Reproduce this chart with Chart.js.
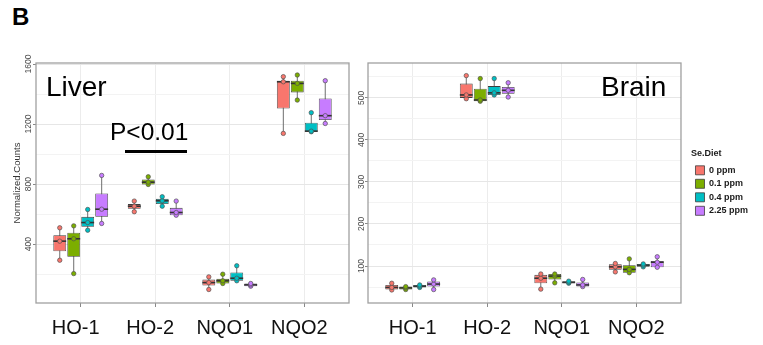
<!DOCTYPE html>
<html>
<head>
<meta charset="utf-8">
<script src="https://cdn.jsdelivr.net/npm/chart.js@4.4.1/dist/chart.umd.min.js"></script>
<style>
body { margin: 0; background: #fff; width: 763px; height: 345px; overflow: hidden; position: relative; font-family: "Liberation Sans", Arial, sans-serif; }
canvas { position: absolute; top: 0; }
#liver { left: 0; }
#brain { left: 352px; }
.lab { position: absolute; line-height: 1; color: #000; white-space: nowrap; }
</style>
</head>
<body>
<div class="lab" style="left:12px;top:5px;font-size:24px;font-weight:bold">B</div>
<canvas id="liver" width="360" height="345"></canvas>
<canvas id="brain" width="411" height="345"></canvas>
<div class="lab" style="left:46px;top:73px;font-size:28px">Liver</div>
<div class="lab" style="left:601px;top:73px;font-size:28px">Brain</div>
<div class="lab" style="left:110px;top:120px;font-size:24.5px">P&lt;0.01</div>
<div style="position:absolute;left:125px;top:150px;width:62px;height:3px;background:#000"></div>
<script>
Chart.defaults.font.family = '"Liberation Sans", Arial, sans-serif';

var genes = ['HO-1', 'HO-2', 'NQO1', 'NQO2'];
var diets = ['0 ppm', '0.1 ppm', '0.4 ppm', '2.25 ppm'];
var dietColors = ['#F8766D', '#7CAE00', '#00BFC4', '#C77CFF'];

// liver, one row per diet, one column per gene
var liverLow  = [[293, 616,  98, 1138], [204, 798, 138, 1360], [493, 653, 156, 1149], [538, 593, 120, 1204]];
var liverQ1   = [[353, 636, 124, 1304], [316, 798, 138, 1411], [516, 667, 156, 1149], [582, 593, 120, 1227]];
var liverMed  = [[420, 653, 144, 1482], [436, 813, 156, 1471], [544, 689, 173, 1153], [633, 611, 129, 1256]];
var liverQ3   = [[460, 667, 164, 1489], [476, 831, 169, 1489], [582, 702, 211, 1209], [738, 642, 138, 1371]];
var liverHigh = [[509, 687, 182, 1516], [522, 849, 200, 1527], [631, 716, 256, 1276], [858, 687, 138, 1489]];

// brain
var brainLow  = [[43, 498, 45,  86], [44, 492, 60,  84], [49, 507, 59,  98], [44, 502, 51,  97]];
var brainQ1   = [[44, 500, 59,  91], [44, 492, 68,  84], [49, 507, 59,  98], [51, 510, 51,  97]];
var brainMed  = [[49, 507, 71,  98], [48, 495, 76,  92], [52, 512, 61, 102], [57, 518, 55, 109]];
var brainQ3   = [[55, 534, 79, 104], [51, 522, 81, 102], [55, 528, 64, 105], [63, 526, 61, 112]];
var brainHigh = [[59, 553, 81, 106], [51, 546, 81, 117], [55, 546, 64, 105], [67, 536, 68, 122]];

var liverTicks = [400, 800, 1200, 1600];
var liverMinor = [200, 600, 1000, 1400];
var brainTicks = [100, 200, 300, 400, 500];
var brainMinor = [50, 150, 250, 350, 450, 550];

function boxExtras(s) {
    return {
        id: 'boxExtras',
        beforeDatasetsDraw: function(chart) {
            var ctx = chart.ctx, y = chart.scales.y;
            ctx.save();
            ctx.strokeStyle = '#6e6e6e';
            ctx.lineWidth = 1;
            chart.data.datasets.forEach(function(ds, i) {
                chart.getDatasetMeta(i).data.forEach(function(bar, j) {
                    ctx.beginPath();
                    ctx.moveTo(bar.x, y.getPixelForValue(s.low[i][j]));
                    ctx.lineTo(bar.x, y.getPixelForValue(s.high[i][j]));
                    ctx.stroke();
                });
            });
            ctx.restore();
        },
        afterDatasetsDraw: function(chart) {
            var ctx = chart.ctx, y = chart.scales.y;
            ctx.save();
            chart.data.datasets.forEach(function(ds, i) {
                chart.getDatasetMeta(i).data.forEach(function(bar, j) {
                    var m = y.getPixelForValue(s.med[i][j]);
                    ctx.strokeStyle = '#333';
                    ctx.lineWidth = 1.6;
                    ctx.beginPath();
                    ctx.moveTo(bar.x - bar.width / 2, m);
                    ctx.lineTo(bar.x + bar.width / 2, m);
                    ctx.stroke();
                    [s.low[i][j], s.med[i][j], s.high[i][j]].forEach(function(v) {
                        ctx.beginPath();
                        ctx.arc(bar.x, y.getPixelForValue(v), 2.2, 0, Math.PI * 2);
                        ctx.fillStyle = dietColors[i];
                        ctx.fill();
                        ctx.strokeStyle = 'rgba(80,80,80,0.85)';
                        ctx.lineWidth = 0.8;
                        ctx.stroke();
                    });
                });
            });
            ctx.restore();
        },
        afterDraw: function(chart) {
            var a = chart.chartArea, ctx = chart.ctx;
            ctx.save();
            ctx.strokeStyle = '#a0a0a0';
            ctx.lineWidth = 1.3;
            ctx.strokeRect(a.left, a.top, a.right - a.left, a.bottom - a.top);
            ctx.restore();
        }
    };
}

function makeChart(id, s) {
    var scales = {
        x: {
            type: 'linear', min: 0.4, max: 4.6, offset: false,
            afterBuildTicks: function(sc) { sc.ticks = genes.map(function(g, i) { return { value: i + 1 }; }); },
            ticks: {
                callback: function(v) { return genes[v - 1]; },
                font: { size: 20 }, color: '#111', padding: 9, autoSkip: false, maxRotation: 0,
                labelOffset: s.labelShift
            },
            grid: { offset: false, color: '#ececec', tickLength: 4, tickColor: '#888' },
            border: { display: false },
            afterFit: function(sc) { sc.height = 42; }
        },
        y: {
            min: s.yMin, max: s.yMax,
            afterBuildTicks: function(sc) {
                sc.ticks = s.major.concat(s.minor).sort(function(a, b) { return a - b; })
                    .map(function(v) { return { value: v }; });
            },
            ticks: {
                callback: function(v) { return s.major.indexOf(v) >= 0 ? v : ''; },
                minRotation: 90, maxRotation: 90, crossAlign: 'center', padding: s.tickPad,
                autoSkip: false, font: { size: 8.5 }, color: '#4d4d4d'
            },
            grid: {
                color: function(c) { return c.tick && s.major.indexOf(c.tick.value) >= 0 ? '#e6e6e6' : '#f3f3f3'; },
                tickColor: function(c) { return c.tick && s.major.indexOf(c.tick.value) >= 0 ? '#888' : 'rgba(0,0,0,0)'; },
                tickLength: 3
            },
            border: { display: false },
            title: s.yTitle,
            afterFit: function(sc) { sc.width = s.yWidth; }
        }
    };
    if (s.gap) {
        scales.gap = {
            position: 'right', display: true,
            grid: { display: false }, ticks: { display: false }, border: { display: false },
            afterFit: function(sc) { sc.width = s.gap; }
        };
    }
    return new Chart(document.getElementById(id), {
        type: 'bar',
        data: {
            datasets: diets.map(function(d, i) {
                return {
                    label: d,
                    yAxisID: 'y',
                    data: genes.map(function(g, j) { return { x: j + 1, y: [s.q1[i][j], s.q3[i][j]] }; }),
                    backgroundColor: dietColors[i],
                    borderColor: '#3d3d3d',
                    borderWidth: 0.8,
                    borderSkipped: false,
                    categoryPercentage: 0.75,
                    barPercentage: 0.92
                };
            })
        },
        options: {
            responsive: false,
            animation: false,
            events: [],
            layout: { padding: s.pad },
            plugins: { legend: s.legend, tooltip: { enabled: false } },
            scales: scales
        },
        plugins: [boxExtras(s)]
    });
}

makeChart('liver', {
    low: liverLow, q1: liverQ1, med: liverMed, q3: liverQ3, high: liverHigh,
    yMin: 8, yMax: 1607, major: liverTicks, minor: liverMinor,
    tickPad: -5, yWidth: 36, labelShift: -5,
    yTitle: { display: true, text: 'Normalized.Counts', color: '#333', font: { size: 9.5 }, padding: { top: 12, bottom: 0 } },
    pad: { top: 63, right: 11, bottom: 0, left: 0 },
    legend: { display: false }
});

makeChart('brain', {
    low: brainLow, q1: brainQ1, med: brainMed, q3: brainQ3, high: brainHigh,
    yMin: 12, yMax: 583, major: brainTicks, minor: brainMinor,
    tickPad: -4, yWidth: 16, gap: 10, labelShift: 0,
    yTitle: { display: false },
    pad: { top: 63, right: 5, bottom: 0, left: 0 },
    legend: {
        display: true, position: 'right', align: 'start',
        title: { display: true, text: 'Se.Diet', position: 'start', color: '#1a1a1a',
                 font: { size: 9, weight: 'bold' }, padding: { top: 86.5, bottom: 1 } },
        labels: { boxWidth: 9, boxHeight: 9, padding: 4.5, color: '#1a1a1a', font: { size: 9, weight: 'bold' } }
    }
});
</script>
</body>
</html>
